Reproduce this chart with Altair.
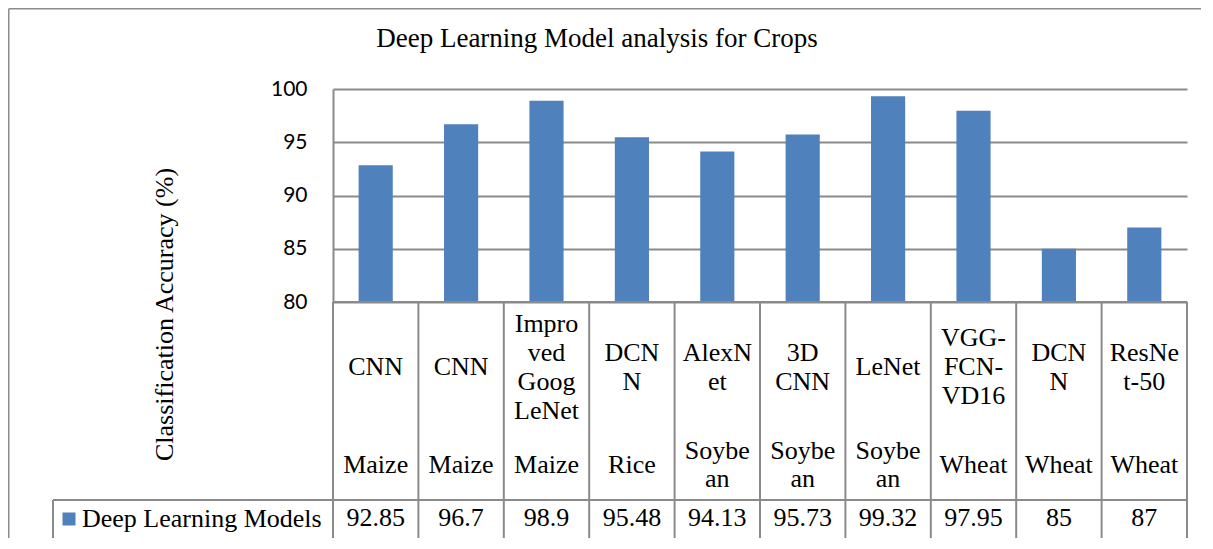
import altair as alt
import pandas as pd

# ---- data ----
models = ["CNN", "CNN", "Impro\nved\nGoog\nLeNet", "DCN\nN", "AlexN\net",
          "3D\nCNN", "LeNet", "VGG-\nFCN-\nVD16", "DCN\nN", "ResNe\nt-50"]
crops = ["Maize", "Maize", "Maize", "Rice", "Soybe\nan", "Soybe\nan",
         "Soybe\nan", "Wheat", "Wheat", "Wheat"]
values = [92.85, 96.7, 98.9, 95.48, 94.13, 95.73, 99.32, 97.95, 85, 87]
value_labels = ["92.85", "96.7", "98.9", "95.48", "94.13", "95.73",
                "99.32", "97.95", "85", "87"]
y_ticks = [80, 85, 90, 95, 100]
series_name = "Deep Learning Models"
title_text = "Deep Learning Model analysis for Crops"
y_title = "Classification Accuracy (%)"

df = pd.DataFrame({
    "idx": [str(i) for i in range(len(models))],
    "model": models,
    "crop": crops,
    "value": values,
    "vlabel": value_labels,
    "series": [series_name] * len(models),
})
one = pd.DataFrame({"t": [title_text]})

W, H = 854, 213
SERIF = "Liberation Serif"
LINE = "#8a8a8a"
BLUE = "#4F81BD"

band = alt.Scale(paddingInner=0, paddingOuter=0)
xenc = alt.X("idx:N", sort=None, scale=band, axis=None)

base = alt.Chart(df)

bars = base.mark_bar(width=alt.RelativeBandSize(0.4), color=BLUE).encode(
    x=xenc,
    y=alt.Y("value:Q",
            scale=alt.Scale(domain=[80, 100], nice=False, zero=False),
            axis=alt.Axis(values=y_ticks, grid=True, gridColor=LINE, gridWidth=1.8,
                          domain=True, domainColor=LINE, domainWidth=2,
                          ticks=False, labelFont="Lato", labelFontSize=21,
                          labelColor="black", labelPadding=26,
                          title=y_title, titleFont=SERIF, titleFontSize=26,
                          titleFontWeight="normal", titleColor="black",
                          titleAngle=270, titleX=-161, titleY=225,
                          titleAlign="center", titleBaseline="alphabetic")),
    y2=alt.datum(80),
    color=alt.Color("series:N",
                    scale=alt.Scale(domain=[series_name], range=[BLUE]),
                    legend=alt.Legend(title=None, orient="none", legendX=-277,
                                      legendY=417, symbolType="square",
                                      symbolSize=169, symbolStrokeWidth=0,
                                      labelFont=SERIF, labelFontSize=26,
                                      labelColor="black", labelOffset=0,
                                      padding=0, labelLimit=400)),
)


def wrapped_text(field, center, lh, max_lines):
    layers = []
    for k in range(1, max_lines + 1):
        layers.append(
            base.transform_calculate(nl=f"length(split(datum.{field}, '\\n'))")
            .transform_filter(f"datum.nl == {k}")
            .mark_text(font=SERIF, fontSize=26, lineBreak="\n", lineHeight=lh,
                       baseline="middle", color="black")
            .encode(x=xenc, y=alt.value(center - (k - 1) * lh / 2),
                    text=f"{field}:N")
        )
    return layers


model_layers = wrapped_text("model", 278, 29, 4)
crop_layers = wrapped_text("crop", 376, 28, 2)
val_txt = base.mark_text(font=SERIF, fontSize=26, baseline="middle",
                         color="black").encode(
    x=xenc, y=alt.value(429), text="vlabel:N")

dividers = base.mark_rule(color=LINE, strokeWidth=2).encode(
    x=alt.X("idx:N", sort=None, bandPosition=0, scale=band, axis=None),
    y=alt.value(H), y2=alt.value(450))
last_div = base.transform_filter(alt.datum.idx == str(len(models) - 1)).mark_rule(
    color=LINE, strokeWidth=2).encode(
    x=alt.X("idx:N", sort=None, bandPosition=1, scale=band, axis=None),
    y=alt.value(H), y2=alt.value(450))

frame = alt.Chart(one)
hline0 = frame.mark_rule(color=LINE, strokeWidth=2).encode(
    x=alt.value(0), x2=alt.value(W), y=alt.value(H))
hline1 = frame.mark_rule(color=LINE, strokeWidth=2).encode(
    x=alt.value(-280), x2=alt.value(W), y=alt.value(411))
hline2 = frame.mark_rule(color=LINE, strokeWidth=2).encode(
    x=alt.value(-280), x2=alt.value(W), y=alt.value(450))
vline = frame.mark_rule(color=LINE, strokeWidth=2).encode(
    x=alt.value(-280), y=alt.value(411), y2=alt.value(450))
border_top = frame.mark_rule(color="#8c8c8c", strokeWidth=1.5).encode(
    x=alt.value(-324.25), x2=alt.value(900), y=alt.value(-80.25))
border_left = frame.mark_rule(color="#8c8c8c", strokeWidth=1.5).encode(
    x=alt.value(-324.25), y=alt.value(-80.25), y2=alt.value(480))
title = frame.mark_text(font=SERIF, fontSize=27, align="center",
                        baseline="alphabetic", color="black").encode(
    x=alt.value(264), y=alt.value(-42), text="t:N")

chart = alt.layer(
    border_top, border_left, bars, dividers, last_div, hline0, hline1, hline2,
    vline, *model_layers, *crop_layers, val_txt, title
).properties(
    width=W, height=H,
    autosize=alt.AutoSizeParams(type="none"),
    padding={"left": 325, "top": 81, "right": 14, "bottom": 236},
).configure_view(stroke=None)

chart.save("out.html", embed_options={"renderer": "svg", "actions": False})
